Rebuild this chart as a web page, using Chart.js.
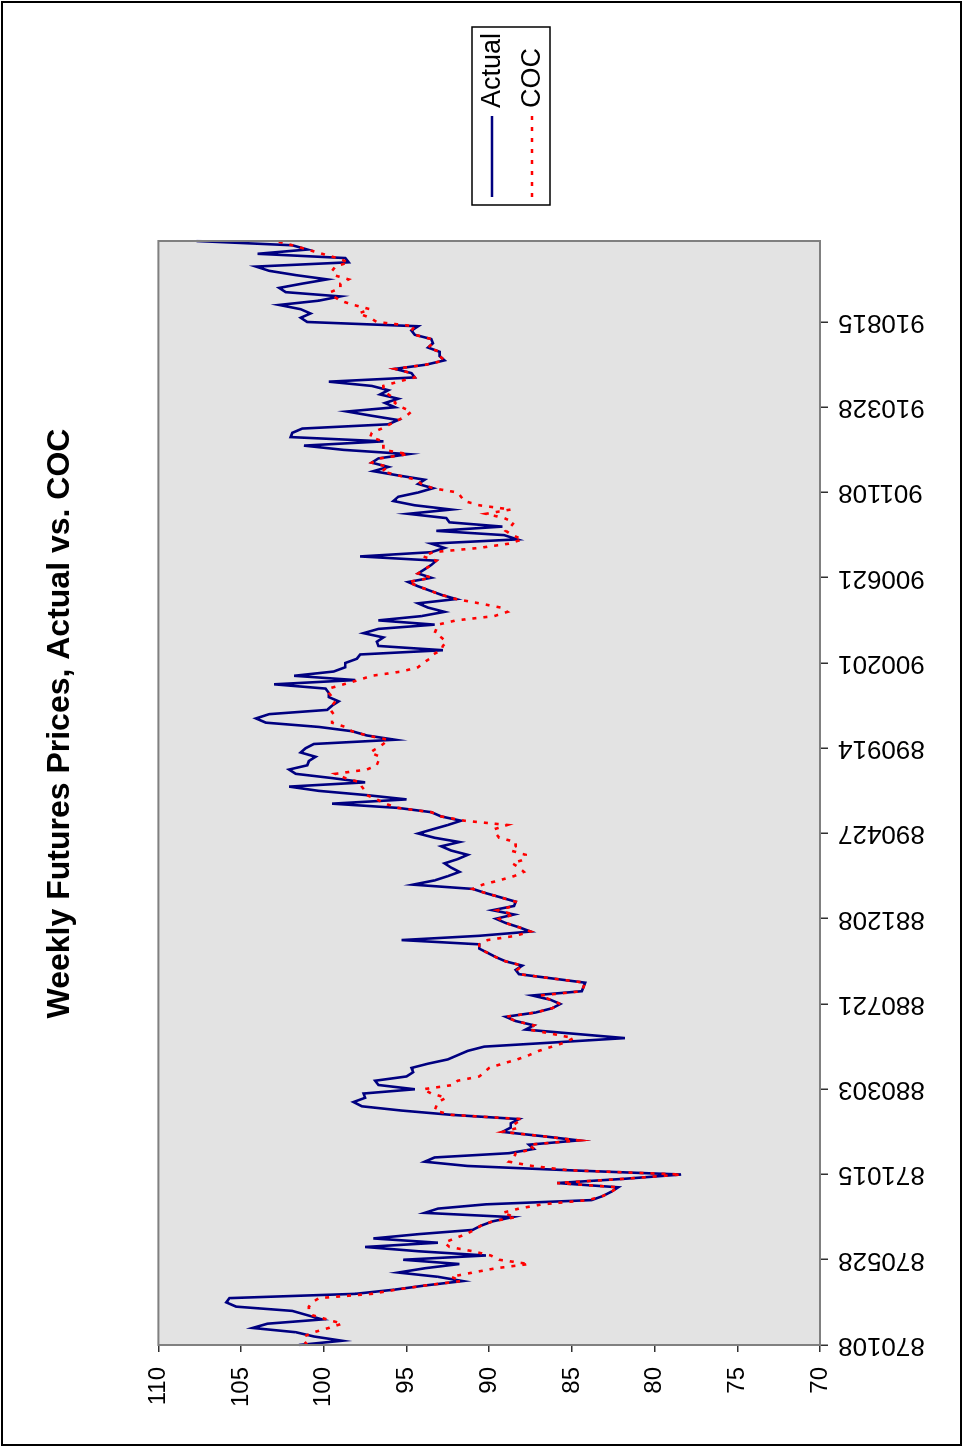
<!DOCTYPE html>
<html>
<head>
<meta charset="utf-8">
<title>Weekly Futures Prices, Actual vs. COC</title>
<script src="https://cdn.jsdelivr.net/npm/chart.js@4.4.1/dist/chart.umd.min.js"></script>
<style>
  html, body { margin: 0; padding: 0; background: #ffffff; }
  #page { position: absolute; left: 0; top: 0; width: 963px; height: 1447px; overflow: hidden; }
  /* the chart is laid out landscape and turned a quarter turn counter-clockwise */
  #frame { position: absolute; left: 0; top: 0; width: 1447px; height: 963px;
           transform-origin: 0 0; transform: translate(0, 1447px) rotate(-90deg); }
  canvas { display: block; }
</style>
</head>
<body>
<div id="page"><div id="frame"><canvas id="chart" width="1447" height="963"></canvas></div></div>
<script>
// weekly settlement dates (yymmdd), Jan 1987 - Dec 1991
const weeks = [
  '870108','870115','870122','870129','870205','870212','870219','870226','870305','870312','870319','870326',
  '870402','870409','870416','870423','870430','870507','870514','870521','870528','870604','870611','870618','870625',
  '870702','870709','870716','870723','870730','870806','870813','870820','870827','870903','870910','870917','870924',
  '871001','871008','871015','871022','871029','871105','871112','871119','871126','871203','871210','871217','871224','871231',
  '880107','880114','880121','880128','880204','880211','880218','880225','880303','880310','880317','880324','880331',
  '880407','880414','880421','880428','880505','880512','880519','880526','880602','880609','880616','880623','880630',
  '880707','880714','880721','880728','880804','880811','880818','880825','880901','880908','880915','880922','880929',
  '881006','881013','881020','881027','881103','881110','881117','881124','881201','881208','881215','881222','881229',
  '890105','890112','890119','890126','890202','890209','890216','890223','890302','890309','890316','890323','890330',
  '890406','890413','890420','890427','890504','890511','890518','890525','890601','890608','890615','890622','890629',
  '890706','890713','890720','890727','890803','890810','890817','890824','890831','890907','890914','890921','890928',
  '891005','891012','891019','891026','891102','891109','891116','891123','891130','891207','891214','891221','891228',
  '900104','900111','900118','900125','900201','900208','900215','900222','900301','900308','900315','900322','900329',
  '900405','900412','900419','900426','900503','900510','900517','900524','900531','900607','900614','900621','900628',
  '900705','900712','900719','900726','900802','900809','900816','900823','900830','900906','900913','900920','900927',
  '901004','901011','901018','901025','901101','901108','901115','901122','901129','901206','901213','901220','901227',
  '910103','910110','910117','910124','910131','910207','910214','910221','910228','910307','910314','910321','910328',
  '910404','910411','910418','910425','910502','910509','910516','910523','910530','910606','910613','910620','910627',
  '910704','910711','910718','910725','910801','910808','910815','910822','910829','910905','910912','910919','910926',
  '911003','911010','911017','911024','911031','911107','911114','911121','911128','911205','911212','911219','911226'
];

// dates that carry a label on the category axis
const weekTicks = ['870108','870528','871015','880303','880721','881208','890427',
                   '890914','900201','900621','901108','910328','910815'];

// value axis
const priceMin = 70, priceMax = 110, priceStep = 5;

// observed futures price
const actual = [
  101.5, 98.9,100.6,101.7,104.3,103.4,100.1,101.0,101.9,105.3,105.9,105.7, 98.1, 95.7, 93.8, 91.6, 93.1, 95.5, 93.9, 91.8,
   95.2, 90.2, 94.3, 97.5, 93.1, 97.0, 94.3, 91.0, 90.5, 89.8, 88.6, 93.9, 93.1, 90.2, 83.8, 83.1, 82.6, 82.2, 85.9, 81.8,
   78.4, 85.2, 91.3, 93.9, 93.3, 88.8, 87.3, 87.6, 84.6, 86.8, 89.2, 88.7, 88.7, 88.2, 92.3, 95.3, 97.7, 98.2, 97.5, 97.6,
   94.5, 96.7, 96.9, 95.0, 94.6, 94.7, 93.7, 92.5, 91.9, 91.3, 90.3, 86.0, 81.8, 84.8, 87.8, 87.3, 88.4, 89.0, 87.2, 86.2,
   85.7, 86.3, 87.4, 84.4, 84.3, 84.2, 86.2, 88.2, 88.4, 88.0, 89.0, 89.6, 90.1, 90.6, 90.6, 95.3, 90.6, 87.5, 88.2, 89.0,
   89.6, 88.5, 89.8, 88.5, 88.4, 89.3, 90.2, 91.0, 94.6, 93.3, 92.5, 91.8, 92.3, 92.7, 91.9, 91.3, 92.3, 92.9, 91.8, 93.3,
   94.3, 93.4, 92.5, 91.7, 92.9, 93.5, 95.5, 99.5, 95.0, 97.4,100.3,102.1, 97.5, 99.5,101.7,102.1,101.0,100.9,100.5,101.4,
  101.1,100.6, 95.7, 97.4, 98.3,100.3,103.5,104.1,103.3, 99.8, 99.5, 99.1, 99.7, 99.7, 99.9,103.0, 98.1,101.8, 99.4, 98.7,
   98.7, 98.0, 97.8, 92.8, 96.7, 96.8, 96.4, 97.6, 96.7, 93.3, 96.7, 94.1, 92.7, 93.7, 94.3, 92.0, 92.9, 93.6, 94.3, 94.9,
   93.5, 94.3, 93.9, 93.5, 93.2, 97.8, 93.5, 92.7, 93.5, 88.3, 89.1, 93.2, 89.2, 92.4, 92.6, 94.9, 92.3, 94.5, 95.8, 95.5,
   94.3, 93.4, 94.3, 93.9, 95.5, 97.0, 96.1, 97.1, 96.7, 94.9, 98.8,101.2, 96.4,102.0,101.9,101.3, 96.1, 95.5, 97.1, 98.6,
   95.7, 96.3, 95.5, 96.6, 96.1, 97.1, 99.7, 94.5, 94.7, 95.7, 93.8, 92.7, 93.0, 93.0, 93.7, 93.4, 93.5, 94.5, 94.7, 94.3,
  101.0,101.4,100.8,101.4,102.7,100.3, 99.0,102.3,102.7,101.3, 99.8,101.7,103.3,104.1, 98.5, 98.7,104.0,101.0,101.9,107.7
];

// cost-of-carry price
const coc = [
  101.0,101.2,101.2,100.6, 99.7, 98.9, 99.8,100.7,100.9,100.9,100.7,100.3, 97.1, 95.6, 93.8, 91.7, 92.3, 91.0, 89.6, 87.6,
   89.4, 89.9, 91.0, 92.4, 92.7, 92.1, 91.4, 90.9, 90.5, 89.8, 88.4, 89.2, 88.2, 86.8, 84.0, 83.1, 82.6, 82.2, 85.9, 81.8,
   78.4, 85.2, 87.4, 88.8, 88.5, 88.4, 87.3, 87.6, 84.6, 86.8, 89.2, 88.2, 88.4, 88.0, 92.3, 93.3, 93.2, 93.1, 92.6, 93.5,
   94.0, 92.2, 91.9, 90.6, 90.3, 90.0, 89.2, 88.3, 87.6, 87.0, 86.2, 85.4, 84.9, 86.2, 87.6, 87.3, 88.4, 89.0, 87.2, 86.2,
   85.7, 86.3, 86.9, 84.4, 84.3, 84.2, 86.2, 88.2, 88.3, 88.0, 89.0, 89.6, 90.1, 90.6, 90.6, 90.1, 88.4, 87.5, 88.2, 89.0,
   89.4, 88.5, 89.5, 88.5, 88.4, 89.3, 90.2, 91.0, 90.4, 89.4, 88.5, 87.9, 88.2, 88.6, 87.8, 87.8, 88.7, 88.4, 88.4, 89.4,
   89.6, 89.7, 88.9, 91.5, 92.9, 93.5, 95.5, 96.3, 96.8, 97.4, 97.5, 97.7, 97.8, 98.7, 99.3, 97.4, 96.8, 96.7, 96.6, 97.2,
   96.8, 96.4, 96.1, 97.4, 98.3, 98.7, 99.5, 99.5, 99.4, 99.6, 99.5, 99.3, 99.5, 99.7, 99.7, 98.8, 97.9, 97.1, 95.3, 94.3,
   94.0, 93.6, 93.4, 92.9, 92.8, 92.6, 92.9, 93.3, 93.2, 93.1, 92.0, 89.7, 88.9, 89.3, 90.6, 92.0, 92.9, 93.6, 94.3, 94.9,
   93.5, 94.3, 93.9, 93.5, 93.2, 94.0, 93.4, 90.6, 88.8, 88.0, 88.6, 89.0, 88.7, 88.5, 89.1, 90.2, 88.7, 90.6, 91.5, 91.7,
   91.9, 93.4, 94.1, 94.4, 95.5, 96.5, 96.1, 97.1, 96.6, 94.9, 96.4, 96.4, 96.4, 97.2, 97.1, 96.5, 96.0, 95.5, 95.0, 94.7,
   95.3, 95.7, 95.7, 96.1, 96.4, 96.4, 95.5, 94.5, 94.7, 95.7, 93.8, 92.7, 93.0, 93.0, 93.7, 93.4, 93.5, 94.5, 94.7, 94.5,
   96.8, 97.2, 97.9, 97.2, 98.2, 99.0, 99.4, 99.6, 99.0, 99.0, 98.5, 99.4, 99.5, 99.3, 98.5, 99.2,100.1,101.0,101.9,102.9
];

const FONT = '"Liberation Sans", Arial, Helvetica, sans-serif';

// white page, grey plot area and the outer frame
const framePlugin = {
  id: 'frame',
  beforeDraw(chart) {
    const { ctx, chartArea: a } = chart;
    ctx.save();
    ctx.fillStyle = '#ffffff';
    ctx.fillRect(0, 0, chart.width, chart.height);
    ctx.fillStyle = '#e3e3e3';
    ctx.fillRect(a.left, a.top, a.right - a.left, a.bottom - a.top);
    ctx.restore();
  },
  afterDatasetsDraw(chart) {
    const { ctx, chartArea: a } = chart;
    ctx.save();
    ctx.strokeStyle = '#808080';
    ctx.lineWidth = 2;
    ctx.strokeRect(a.left, a.top, a.right - a.left, a.bottom - a.top);
    ctx.restore();
  },
  afterDraw(chart) {
    const ctx = chart.ctx;
    ctx.save();
    ctx.strokeStyle = '#000000';
    ctx.lineWidth = 2;
    ctx.strokeRect(2, 2, chart.width - 4, chart.height - 4);
    ctx.restore();
  }
};

// boxed legend to the right of the plot
const boxLegend = {
  id: 'boxLegend',
  afterDraw(chart) {
    const ctx = chart.ctx;
    const x0 = chart.chartArea.right + 36, y0 = 472, w = 178, h = 78;
    ctx.save();
    ctx.strokeStyle = '#000000';
    ctx.lineWidth = 1.5;
    ctx.strokeRect(x0, y0, w, h);
    const rows = [chart.data.datasets[0], chart.data.datasets[1]];
    rows.forEach((ds, k) => {
      const y = y0 + 20 + k * 40;
      ctx.beginPath();
      ctx.strokeStyle = ds.borderColor;
      ctx.lineWidth = ds.borderWidth;
      ctx.setLineDash(ds.borderDash || []);
      ctx.moveTo(x0 + 8, y);
      ctx.lineTo(x0 + 89, y);
      ctx.stroke();
      ctx.setLineDash([]);
      ctx.fillStyle = '#000000';
      ctx.font = '27px ' + FONT;
      ctx.textBaseline = 'middle';
      ctx.textAlign = 'left';
      ctx.fillText(ds.label, x0 + 97, y + 1);
    });
    ctx.restore();
  }
};

new Chart(document.getElementById('chart'), {
  type: 'line',
  data: {
    labels: weeks,
    datasets: [
      { label: 'Actual', data: actual, borderColor: '#000080', borderWidth: 2.6,
        pointRadius: 0, tension: 0, fill: false, order: 2, borderJoinStyle: 'miter' },
      { label: 'COC', data: coc, borderColor: '#ff0000', borderWidth: 2.6, borderDash: [4, 7],
        pointRadius: 0, tension: 0, fill: false, order: 1 }
    ]
  },
  options: {
    responsive: false,
    animation: false,
    devicePixelRatio: 1,
    layout: { padding: 0 },
    plugins: {
      legend: { display: false },
      tooltip: { enabled: false },
      title: {
        display: true,
        text: 'Weekly Futures Prices, Actual vs. COC',
        color: '#000000',
        font: { family: FONT, size: 32, weight: 'bold' },
        padding: { top: 41, bottom: 79 }
      }
    },
    scales: {
      x: {
        type: 'category',
        offset: false,
        border: { display: false },
        grid: {
          drawOnChartArea: false, drawTicks: true, tickLength: 8, lineWidth: 1.5,
          color: (c) => weekTicks.includes(weeks[c.index]) ? '#303030' : 'rgba(0,0,0,0)'
        },
        ticks: {
          autoSkip: false, minRotation: 90, maxRotation: 90, padding: 10,
          color: '#000000', font: { family: FONT, size: 26 },
          callback: (v, i) => weekTicks.includes(weeks[i]) ? weeks[i] : ''
        },
        afterFit: (s) => { s.height = 143; }
      },
      y: {
        min: priceMin, max: priceMax,
        border: { display: false },
        grid: { drawOnChartArea: false, drawTicks: true, tickLength: 7, lineWidth: 1.5, color: '#303030' },
        ticks: { stepSize: priceStep, padding: 15, color: '#000000', font: { family: FONT, size: 24 } },
        afterFit: (s) => { s.width = 102; }
      },
      // empty strip on the right that holds the legend
      legendSpace: {
        type: 'linear', axis: 'y', position: 'right', display: true,
        border: { display: false },
        grid: { display: false, drawTicks: false },
        ticks: { display: false },
        afterFit: (s) => { s.width = 241; }
      }
    }
  },
  plugins: [framePlugin, boxLegend]
});
</script>
</body>
</html>
